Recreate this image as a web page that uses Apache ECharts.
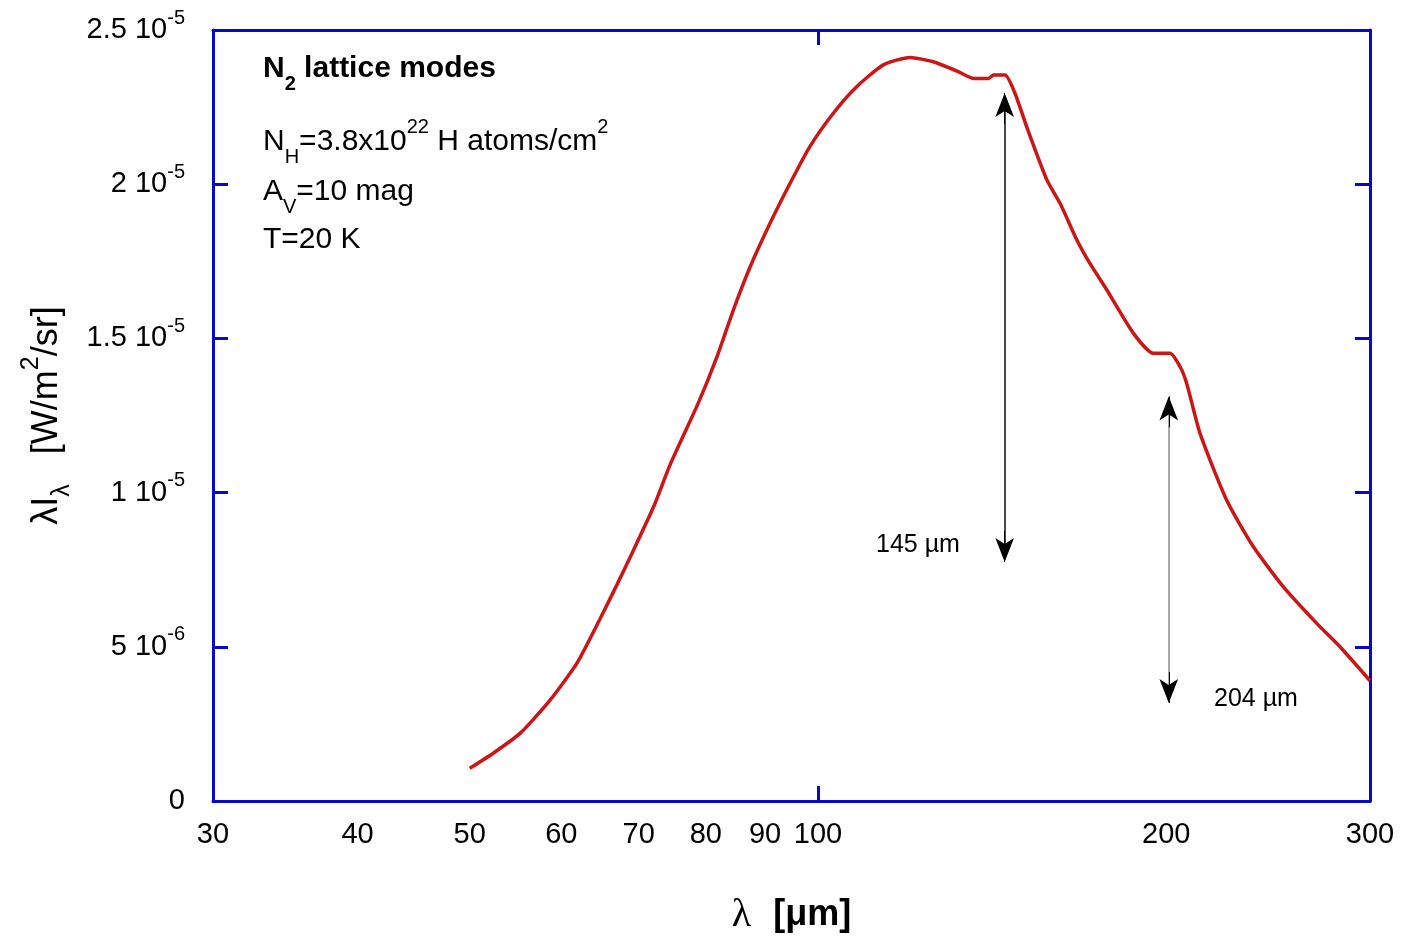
<!DOCTYPE html>
<html>
<head>
<meta charset="utf-8"/>
<title>N2 lattice modes</title>
<style>
    html, body { margin: 0; padding: 0; background: #ffffff; }
    #chart { width: 1408px; height: 936px; }
</style>
<script src="https://cdn.jsdelivr.net/npm/echarts@6/dist/echarts.min.js"></script>
</head>
<body>
<div id="chart"></div>
<script>
// wavelength in micron, intensity in units of 1e-6 W/m2/sr
var wavelength = [50, 52.4, 55.3, 58.7, 61.9, 64.8, 67.0, 69.2, 72.1, 74.5, 78.8, 81.8, 84.5, 87.4, 90.9, 94.6, 98.4,
    103.1, 108.0, 113.9, 120.1, 125.8, 132.2, 136.2, 140.4, 141.8, 145.1, 148.0, 151.5, 157.7, 161.9, 167.4, 171.8,
    177.7, 187.3, 194.9, 201.5, 205.6, 208.3, 213.9, 225.5, 237.8, 252.4, 269.8, 282.6, 300];
var intensity = [1.06, 1.55, 2.20, 3.28, 4.47, 5.90, 7.00, 8.10, 9.54, 10.90, 12.90, 14.41, 15.92, 17.33, 18.73, 20.03, 21.22,
    22.30, 23.16, 23.87, 24.11, 23.97, 23.65, 23.43, 23.43, 23.54, 23.54, 22.95, 21.86, 20.14, 19.38, 18.19, 17.43,
    16.57, 15.17, 14.52, 14.52, 14.08, 13.54, 11.92, 9.76, 8.25, 6.95, 5.76, 5.00, 3.90];

var xTickValues = [30, 40, 50, 60, 70, 80, 90, 100, 200, 300];
var yTickValues = [0, 5, 10, 15, 20, 25];
var yTickMantissa = ['0', '5 10', '1 10', '1.5 10', '2 10', '2.5 10'];
var yTickExponent = ['', '-6', '-5', '-5', '-5', '-5'];

// vertical arrows marking the lattice mode features
var arrowLambda = [145, 201];
var arrowBottom = [7.75, 3.18];
var arrowTop = [22.96, 13.12];
var arrowShaftColor = ['#4a4a4a', '#a8a8a8'];

var FONT = 'Liberation Sans';
var AXIS_BLUE = '#0808c8';

var chart = echarts.init(document.getElementById('chart'));

var points = [];
for (var i = 0; i < wavelength.length; i++) {
    points.push([wavelength[i], intensity[i]]);
}

var arrowData = [];
for (var k = 0; k < arrowLambda.length; k++) {
    arrowData.push([
        {coord: [arrowLambda[k], arrowBottom[k] + 0.4], lineStyle: {color: arrowShaftColor[k], width: 2, type: 'solid'}},
        {coord: [arrowLambda[k], arrowTop[k] - 0.4]}
    ]);
    // heads
    arrowData.push([
        {coord: [arrowLambda[k], arrowTop[k] - 1.0], lineStyle: {color: '#000', width: 1, type: 'solid'}},
        {coord: [arrowLambda[k], arrowTop[k]], symbol: 'arrow'}
    ]);
    arrowData.push([
        {coord: [arrowLambda[k], arrowBottom[k] + 1.0], lineStyle: {color: '#000', width: 1, type: 'solid'}},
        {coord: [arrowLambda[k], arrowBottom[k]], symbol: 'arrow'}
    ]);
}

function xAxisBase(pos) {
    return {
        type: 'log',
        logBase: 10,
        position: pos,
        min: 30,
        max: 300,
        axisLine: {show: true, onZero: false, lineStyle: {color: AXIS_BLUE, width: 3}},
        axisTick: {show: true, inside: true, length: 15, customValues: [100],
            lineStyle: {color: AXIS_BLUE, width: 3}},
        minorTick: {show: false},
        splitLine: {show: false},
        axisLabel: {show: false}
    };
}

function yAxisBase(pos) {
    return {
        type: 'value',
        position: pos,
        min: 0,
        max: 25,
        interval: 5,
        axisLine: {show: true, onZero: false, lineStyle: {color: AXIS_BLUE, width: 3}},
        axisTick: {show: true, inside: true, length: 15, lineStyle: {color: AXIS_BLUE, width: 3}},
        splitLine: {show: false},
        axisLabel: {show: false}
    };
}

var xBottom = xAxisBase('bottom');
xBottom.axisLabel = {
    show: true,
    customValues: xTickValues,
    fontFamily: FONT,
    fontSize: 29,
    color: '#000',
    margin: 19,
    formatter: function (v) { return String(Math.round(v)); }
};
xBottom.name = '{l|λ}{b|[μm]}';
xBottom.nameLocation = 'middle';
xBottom.nameGap = 94;
xBottom.nameTextStyle = {
    rich: {
        l: {fontFamily: 'Liberation Serif', fontSize: 40, color: '#000', padding: [0, 22, 0, 0]},
        b: {fontFamily: FONT, fontWeight: 'bold', fontSize: 36, color: '#000'}
    }
};

var xTop = xAxisBase('top');

var yLeft = yAxisBase('left');
yLeft.axisLabel = {
    show: true,
    margin: 28,
    color: '#000',
    formatter: function (v) {
        var idx = yTickValues.indexOf(Math.round(v));
        if (idx < 0) return '';
        if (!yTickExponent[idx]) return '{m|' + yTickMantissa[idx] + '}';
        return '{m|' + yTickMantissa[idx] + '}{e|' + yTickExponent[idx] + '}';
    },
    rich: {
        m: {fontFamily: FONT, fontSize: 29, lineHeight: 44, color: '#000'},
        e: {fontFamily: FONT, fontSize: 20, lineHeight: 20, verticalAlign: 'top', color: '#000'}
    }
};
yLeft.name = '{m|λI}{s|λ}{m|   [W/m}{p|2}{m|/sr]}';
yLeft.nameLocation = 'middle';
yLeft.nameRotate = 90;
yLeft.nameGap = 138;
yLeft.nameTextStyle = {
    rich: {
        m: {fontFamily: FONT, fontSize: 36, lineHeight: 56, color: '#000'},
        s: {fontFamily: FONT, fontSize: 25, lineHeight: 25, verticalAlign: 'bottom', color: '#000'},
        p: {fontFamily: FONT, fontSize: 25, lineHeight: 25, verticalAlign: 'top', color: '#000'}
    }
};

var yRight = yAxisBase('right');

var textRich = {
    m: {fontFamily: FONT, fontSize: 30, lineHeight: 50, color: '#000'},
    mb: {fontFamily: FONT, fontSize: 30, lineHeight: 50, fontWeight: 'bold', color: '#000'},
    sb: {fontFamily: FONT, fontSize: 20, lineHeight: 20, fontWeight: 'bold', verticalAlign: 'bottom', color: '#000'},
    s: {fontFamily: FONT, fontSize: 20, lineHeight: 20, verticalAlign: 'bottom', color: '#000'},
    p: {fontFamily: FONT, fontSize: 20, lineHeight: 20, verticalAlign: 'top', color: '#000'}
};

function textLine(y, txt) {
    return {
        type: 'text',
        x: 263,
        y: y,
        style: {text: txt, rich: textRich, verticalAlign: 'middle', align: 'left'}
    };
}

var option = {
    animation: false,
    backgroundColor: '#ffffff',
    grid: {left: 213, right: 38, top: 30, bottom: 135, containLabel: false, outerBoundsMode: 'none'},
    xAxis: [xBottom, xTop],
    yAxis: [yLeft, yRight],
    series: [
        {
            type: 'line',
            xAxisIndex: 0,
            yAxisIndex: 0,
            data: points,
            showSymbol: false,
            symbol: 'none',
            smooth: 0.2,
            lineStyle: {color: '#cc1616', width: 3.5},
            z: 3,
            markLine: {
                silent: true,
                symbol: ['none', 'none'],
                symbolSize: [14, 24],
                label: {show: false},
                emphasis: {disabled: true},
                lineStyle: {type: 'solid'},
                data: arrowData
            }
        }
    ],
    graphic: [
        textLine(69, '{mb|N}{sb|2}{mb| lattice modes}'),
        textLine(142, '{m|N}{s|H}{m|=3.8x10}{p|22}{m| H atoms/cm}{p|2}'),
        textLine(192, '{m|A}{s|V}{m|=10 mag}'),
        textLine(240, '{m|T=20 K}'),
        {
            type: 'text', x: 918, y: 545,
            style: {text: '145 µm', fontFamily: FONT, fontSize: 25, fill: '#000', align: 'center', verticalAlign: 'middle'}
        },
        {
            type: 'text', x: 1256, y: 699,
            style: {text: '204 µm', fontFamily: FONT, fontSize: 25, fill: '#000', align: 'center', verticalAlign: 'middle'}
        }
    ]
};

chart.setOption(option);
</script>
</body>
</html>
